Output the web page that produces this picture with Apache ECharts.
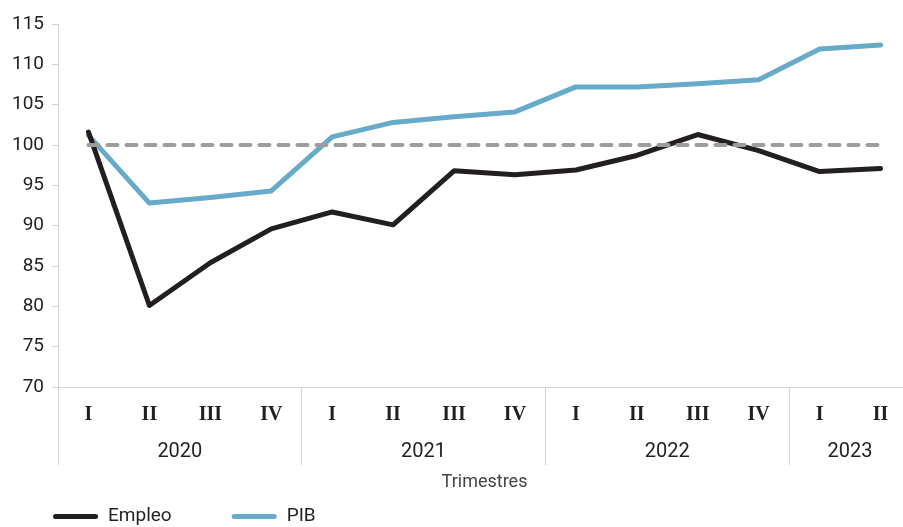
<!DOCTYPE html>
<html>
<head>
<meta charset="utf-8">
<script src="https://cdn.jsdelivr.net/npm/echarts@6/dist/echarts.min.js"></script>
<style>
  html, body { margin: 0; padding: 0; background: #fff; overflow: hidden; width: 903px; height: 527px; }
  #chart { width: 912px; height: 527px; }
</style>
</head>
<body>
<div id="chart"></div>
<script>
// Data
const quarters = ['I','II','III','IV','I','II','III','IV','I','II','III','IV','I','II'];
const years = ['2020','2021','2022','2023'];
const quartersPerYear = [4, 4, 4, 2];
const empleo = [101.6, 80.1, 85.4, 89.6, 91.7, 90.1, 96.8, 96.3, 96.9, 98.7, 101.3, 99.3, 96.7, 97.1];
const pib = [101.2, 92.8, 93.5, 94.3, 101.0, 102.8, 103.5, 104.1, 107.2, 107.2, 107.6, 108.1, 111.9, 112.4];
const baseValue = 100;
const yTicks = [70, 75, 80, 85, 90, 95, 100, 105, 110, 115];

// Year group boundaries and centres (in category index units)
const yearBounds = [];
const yearCenters = [];
let acc = -0.5;
quartersPerYear.forEach(n => {
  yearBounds.push(acc);
  yearCenters.push(acc + n / 2);
  acc += n;
});
const baseline = quarters.map(() => baseValue);

const textColor = '#231f20';
const axisColor = '#d3d3d3';
const font = 'Roboto';
const pill = 'path://M2.5,0 L42.5,0 A2.5,2.5 0 0 1 42.5,5 L2.5,5 A2.5,2.5 0 0 1 2.5,0 Z';

const chart = echarts.init(document.getElementById('chart'));
chart.setOption({
  animation: false,
  backgroundColor: '#ffffff',
  grid: { left: 58, right: 1, top: 24, height: 363, containLabel: false },
  legend: {
    data: [
      { name: 'Empleo', icon: pill },
      { name: 'PIB', icon: pill }
    ],
    left: 48,
    top: 502,
    itemWidth: 45,
    itemHeight: 5,
    itemGap: 60,
    textStyle: { fontFamily: font, fontSize: 19, color: textColor, padding: [0, 0, 0, 5] }
  },
  xAxis: [
    {
      type: 'category',
      data: quarters,
      boundaryGap: true,
      axisLine: { show: true, lineStyle: { color: axisColor, width: 1 } },
      axisTick: { show: false },
      axisLabel: {
        fontFamily: 'Liberation Serif',
        fontSize: 20,
        fontWeight: 'bold',
        color: textColor,
        margin: 18,
        interval: 0
      },
      name: 'Trimestres',
      nameLocation: 'middle',
      nameGap: 86,
      nameTextStyle: { fontFamily: font, fontSize: 18, color: '#444' }
    },
    {
      type: 'value',
      position: 'bottom',
      min: -0.5,
      max: quarters.length - 0.5,
      axisLine: { show: false },
      splitLine: { show: false },
      axisTick: {
        show: true,
        customValues: yearBounds,
        length: 78,
        lineStyle: { color: axisColor, width: 1 }
      },
      axisLabel: {
        customValues: yearCenters,
        margin: 55,
        fontFamily: font,
        fontSize: 20,
        color: textColor,
        formatter: function (v) {
          const i = yearCenters.findIndex(c => Math.abs(c - v) < 1e-6);
          return i >= 0 ? years[i] : '';
        }
      }
    }
  ],
  yAxis: {
    type: 'value',
    min: yTicks[0],
    max: yTicks[yTicks.length - 1],
    interval: yTicks[1] - yTicks[0],
    axisLine: { show: true, onZero: false, lineStyle: { color: axisColor, width: 1 } },
    axisTick: { show: true, length: 6, lineStyle: { color: axisColor } },
    splitLine: { show: false },
    axisLabel: { fontFamily: font, fontSize: 19, color: textColor, margin: 14 }
  },
  series: [
    {
      name: 'Empleo',
      type: 'line',
      data: empleo,
      symbol: 'none',
      lineStyle: { color: '#231f20', width: 5, cap: 'round', join: 'round' },
      itemStyle: { color: '#231f20' },
      z: 3
    },
    {
      name: 'PIB',
      type: 'line',
      data: pib,
      symbol: 'none',
      lineStyle: { color: '#67abc9', width: 5, cap: 'round', join: 'round' },
      itemStyle: { color: '#67abc9' },
      z: 2
    },
    {
      name: 'Base',
      type: 'line',
      data: baseline,
      symbol: 'none',
      silent: true,
      lineStyle: { color: '#9d9d9d', width: 4, type: [10, 9], cap: 'round' },
      itemStyle: { color: '#9d9d9d' },
      z: 4
    }
  ]
});
</script>
</body>
</html>
